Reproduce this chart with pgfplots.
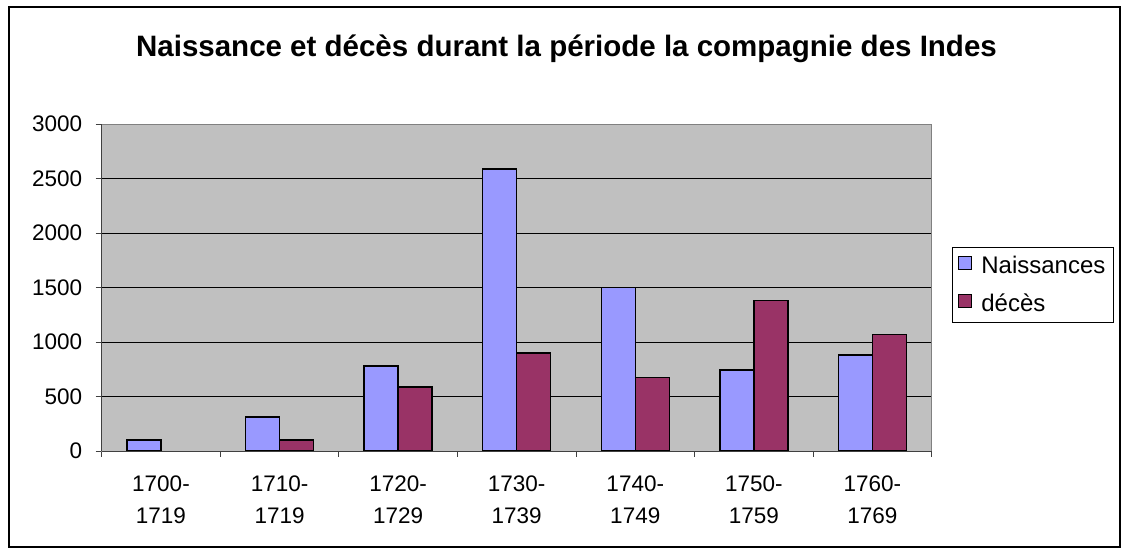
\documentclass[border=0pt]{standalone}
\usepackage{pgfplots}
\pgfplotsset{compat=1.18}
\usepackage{fontspec}
\setmainfont{Liberation Sans}
\definecolor{nais}{HTML}{9999FF}
\definecolor{dec}{HTML}{993366}
\definecolor{plotbg}{HTML}{C0C0C0}
\begin{document}
\begin{tikzpicture}[x=1pt,y=1pt]
\useasboundingbox (0,0) rectangle (1125,554);
\draw[line width=1.4pt] (9,7) rectangle (1120,547);
\node[font=\fontsize{29.5}{34}\selectfont\bfseries, anchor=base] at (566.5,497) {Naissance et décès durant la période la compagnie des Indes};
\begin{axis}[
  at={(101.7pt,103pt)}, anchor=south west,
  scale only axis, width=830pt, height=327pt,
  ybar=0pt, bar width=34pt,
  xmin=-0.5, xmax=6.5, ymin=0, ymax=3000,
  ytick={0,500,...,3000},
  xtick={0,...,6},
  xticklabels={{1700-\\1719},{1710-\\1719},{1720-\\1729},{1730-\\1739},{1740-\\1749},{1750-\\1759},{1760-\\1769}},
  xticklabel style={align=center, font=\fontsize{22.5}{32}\selectfont, yshift=-15pt},
  yticklabel style={font=\fontsize{22.5}{26}\selectfont, xshift=-10pt},
  /pgf/number format/assume math mode=true,
  /pgf/number format/1000 sep={},
  major x tick style={draw=none},
  minor xtick={-0.5,0.5,...,6.5},
  tick align=outside,
  xtick pos=bottom, ytick pos=left,
  major tick length=6pt, minor tick length=6pt,
  tick style={black!75, line width=0.9pt},
  axis line style={black!50, line width=0.9pt},
  ymajorgrids, grid style={black, line width=0.8pt},
  axis background/.style={fill=plotbg},
  legend style={at={(1.0241,0.6248)}, anchor=north west, draw=black, line width=0.7pt,
    font=\fontsize{24}{28}\selectfont, inner xsep=6pt, inner ysep=7pt, row sep=15pt,
    nodes={inner sep=2pt}, cells={anchor=west}},
  legend image code/.code={\draw[#1, line width=1.1pt] (0pt,-4pt) rectangle (13pt,9pt);
    \path (20pt,0pt);},
]
\addplot[fill=nais, draw=black, line width=1.5pt] coordinates {(0,100) (1,310) (2,778) (3,2586) (4,1500) (5,745) (6,880)};
\addplot[fill=dec, draw=black, line width=1.5pt] coordinates {(1,100) (2,587) (3,898) (4,676) (5,1380) (6,1068)};
\legend{Naissances, décès}
\end{axis}
\draw[black!75, line width=0.9pt] (101.7,103) -- (101.7,430);
\draw[black!75, line width=0.9pt] (101.7,103) -- (931.7,103);
\end{tikzpicture}
\end{document}
